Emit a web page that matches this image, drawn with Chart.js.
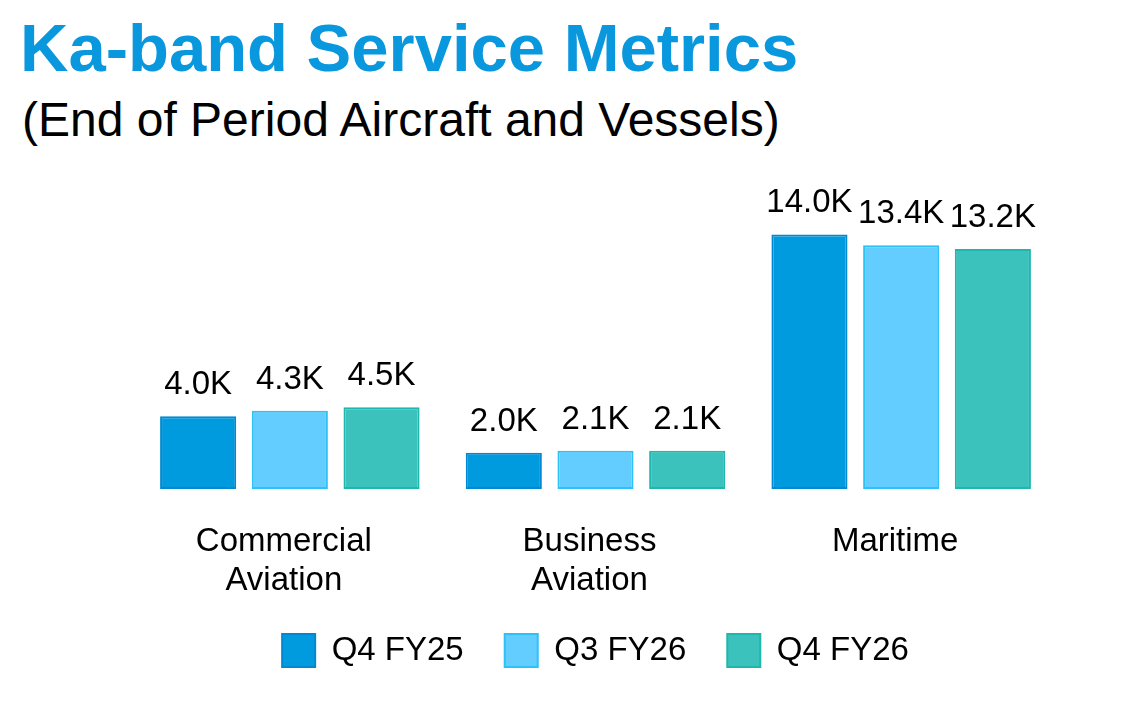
<!DOCTYPE html>
<html>
<head>
<meta charset="utf-8">
<title>Ka-band Service Metrics</title>
<script src="https://cdn.jsdelivr.net/npm/chart.js@4"></script>
<style>
    html, body {
        margin: 0;
        padding: 0;
        width: 1142px;
        height: 702px;
        background: #ffffff;
        overflow: hidden;
        font-family: "Liberation Sans", Arial, sans-serif;
    }
    #title {
        position: absolute;
        left: 20px;
        top: 14px;
        margin: 0;
        font-size: 67px;
        line-height: 67px;
        font-weight: bold;
        color: #0997dd;
        white-space: nowrap;
    }
    #subtitle {
        position: absolute;
        left: 22px;
        top: 96px;
        margin: 0;
        font-size: 48px;
        line-height: 48px;
        font-weight: normal;
        color: #000000;
        white-space: nowrap;
    }
    #chartBox {
        position: absolute;
        left: 48px;
        top: 160px;
        width: 1094px;
        height: 542px;
    }
</style>
</head>
<body>
<h1 id="title">Ka-band Service Metrics</h1>
<h2 id="subtitle">(End of Period Aircraft and Vessels)</h2>
<div id="chartBox"><canvas id="kaChart"></canvas></div>

<script>
'use strict';

// ============================================================
// Data (thousands of aircraft / vessels, end of period)
// ============================================================
const categories = [['Commercial', 'Aviation'], ['Business', 'Aviation'], 'Maritime'];
const seriesNames = ['Q4 FY25', 'Q3 FY26', 'Q4 FY26'];
const q4fy25 = [4.0, 2.0, 14.0];
const q3fy26 = [4.3, 2.1, 13.4];
const q4fy26 = [4.5, 2.1, 13.2];

const fills = ['#009ade', '#62cdfe', '#3cc2bd'];
const borders = ['#0089d2', '#2cc1f7', '#1fb6ae'];

const FONT = '"Liberation Sans", Arial, sans-serif';

// value labels above each bar, e.g. "4.0K"
const barLabels = {
    id: 'barLabels',
    afterDatasetsDraw(chart) {
        const ctx = chart.ctx;
        ctx.save();
        ctx.font = '33px ' + FONT;
        ctx.fillStyle = '#000000';
        ctx.textAlign = 'center';
        ctx.textBaseline = 'alphabetic';
        chart.data.datasets.forEach((ds, i) => {
            const meta = chart.getDatasetMeta(i);
            meta.data.forEach((bar, j) => {
                ctx.fillText(ds.data[j].toFixed(1) + 'K', bar.x, bar.y - 22);
            });
        });
        ctx.restore();
    }
};

const seriesData = [q4fy25, q3fy26, q4fy26];

new Chart(document.getElementById('kaChart'), {
    type: 'bar',
    data: {
        labels: categories,
        datasets: seriesNames.map((name, i) => ({
            label: name,
            data: seriesData[i],
            backgroundColor: fills[i],
            borderColor: borders[i],
            borderWidth: 2,
            borderSkipped: false,
            categoryPercentage: 0.9,
            barPercentage: 0.83
        }))
    },
    options: {
        responsive: true,
        maintainAspectRatio: false,
        animation: false,
        layout: {
            padding: { top: 38, left: 89, right: 88, bottom: 25 }
        },
        plugins: {
            legend: {
                display: true,
                position: 'bottom',
                labels: {
                    color: '#000000',
                    boxWidth: 33,
                    boxHeight: 33,
                    padding: 41,
                    font: { family: FONT, size: 33 }
                }
            },
            tooltip: { enabled: false }
        },
        scales: {
            x: {
                grid: { display: false, drawTicks: false },
                border: { display: false },
                ticks: {
                    color: '#000000',
                    padding: 33,
                    labelOffset: -6,
                    font: { family: FONT, size: 33, lineHeight: 1.2 }
                },
                afterFit(scale) {
                    scale.height = 104;
                }
            },
            y: {
                display: false,
                min: 0,
                max: 16
            }
        }
    },
    plugins: [barLabels]
});
</script>
</body>
</html>
